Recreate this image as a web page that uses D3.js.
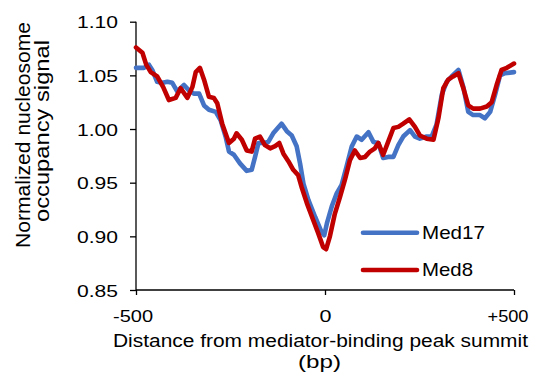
<!DOCTYPE html>
<html>
<head>
<meta charset="utf-8">
<script src="https://cdn.jsdelivr.net/npm/d3@7"></script>
<style>
  html, body { margin: 0; padding: 0; background: #fff; }
  svg { display: block; }
  text { font-family: "Liberation Sans", Arial, sans-serif; fill: #000; }
</style>
</head>
<body>
<svg id="chart" width="537" height="378"></svg>
<script>
// Nucleosome occupancy around mediator-binding peak summits
const med17Bp = [-500,-479,-466,-457,-444,-430,-417,-404,-391,-373,-360,-347,-333,-320,-307,-289,-276,-263,-254,-241,-225,-207,-194,-185,-176,-163,-150,-137,-115,-101,-88,-75,-66,-57,-44,-26,-9,-2,5,18,31,44,57,71,84,97,115,128,141,154,167,181,194,207,225,238,251,269,282,295,309,322,335,353,366,379,392,410,423,437,450,463,476,500];
const med17 = [1.057,1.057,1.060,1.055,1.044,1.043,1.044,1.043,1.035,1.041,1.036,1.033,1.033,1.022,1.018,1.016,1.008,0.993,0.979,0.976,0.968,0.961,0.962,0.974,0.987,0.987,0.988,0.996,1.005,0.998,0.994,0.984,0.968,0.949,0.934,0.918,0.904,0.901,0.912,0.928,0.940,0.948,0.965,0.984,0.993,0.990,0.997,0.988,0.987,0.973,0.974,0.974,0.985,0.993,0.999,0.993,0.991,0.993,0.993,1.004,1.032,1.044,1.049,1.055,1.039,1.016,1.013,1.013,1.010,1.016,1.032,1.050,1.052,1.053];

const med8Bp = [-500,-483,-473,-461,-444,-428,-413,-395,-382,-364,-351,-342,-331,-320,-307,-294,-285,-272,-254,-241,-234,-220,-207,-194,-185,-172,-159,-145,-132,-121,-110,-97,-84,-71,-62,-48,-31,-18,-5,3,13,26,40,53,66,79,93,106,119,132,141,154,167,181,194,207,223,238,251,269,287,300,313,326,339,353,366,379,392,410,428,441,454,467,481,500];
const med8 = [1.076,1.071,1.060,1.053,1.049,1.039,1.027,1.029,1.038,1.029,1.039,1.053,1.057,1.046,1.030,1.029,1.024,1.005,0.987,0.991,0.996,0.990,0.980,0.979,0.991,0.993,0.985,0.982,0.984,0.987,0.977,0.970,0.962,0.957,0.946,0.931,0.915,0.903,0.890,0.888,0.900,0.921,0.937,0.953,0.971,0.980,0.973,0.974,0.979,0.982,0.987,0.976,0.988,1.001,1.002,1.005,1.009,1.002,0.994,0.991,0.990,1.010,1.038,1.046,1.049,1.052,1.038,1.022,1.019,1.019,1.021,1.025,1.041,1.055,1.057,1.061];

const seriesNames = ["Med17", "Med8"];
const seriesColors = ["#4472C4", "#C00000"];
const xTicks = [-500, 0, 500];
const xTickLabels = ["-500", "0", "+500"];
const yTicks = [0.85, 0.90, 0.95, 1.00, 1.05, 1.10];

const svg = d3.select("#chart");
const x = d3.scaleLinear().domain([-500, 500]).range([136, 514]);
const y = d3.scaleLinear().domain([0.85, 1.10]).range([290, 21.7]);

// Stretch a text element horizontally to a target width
function fitWidth(sel, w) {
  sel.attr("textLength", w).attr("lengthAdjust", "spacingAndGlyphs");
}

// Y axis
const yAxis = svg.append("g")
  .attr("transform", "translate(136,0)")
  .call(d3.axisLeft(y).tickValues(yTicks).tickFormat(d3.format(".2f")).tickSize(6).tickPadding(12));
yAxis.select(".domain").attr("stroke", "#000").attr("stroke-width", 1.3).attr("d", "M0,21.7V290");
yAxis.selectAll(".tick line").attr("stroke", "#000").attr("stroke-width", 1.3);
yAxis.selectAll(".tick text")
  .attr("font-size", 17).attr("fill", "#000").attr("dy", "0.36em")
  .each(function() { fitWidth(d3.select(this), 41); });

// X axis
const xAxis = svg.append("g")
  .attr("transform", "translate(0,290)")
  .call(d3.axisBottom(x).tickValues(xTicks).tickFormat((d, i) => xTickLabels[i]).tickSize(5).tickPadding(0));
xAxis.select(".domain").attr("stroke", "#000").attr("stroke-width", 1.3).attr("d", "M136,0H514");
xAxis.selectAll(".tick line").attr("stroke", "#000").attr("stroke-width", 1.3);
xAxis.selectAll(".tick text")
  .attr("font-size", 17).attr("fill", "#000").attr("y", 31.7).attr("dy", 0)
  .attr("dx", (d, i) => [-3.5, 0, -6.5][i])
  .each(function(d, i) { fitWidth(d3.select(this), [40, 12, 41][i]); });

// Lines
const line = d3.line().x(d => x(d[0])).y(d => y(d[1])).curve(d3.curveLinear);
const data = [d3.zip(med17Bp, med17), d3.zip(med8Bp, med8)];
svg.append("g").selectAll("path").data(data).join("path")
  .attr("d", line)
  .attr("fill", "none")
  .attr("stroke", (d, i) => seriesColors[i])
  .attr("stroke-width", 4.6)
  .attr("stroke-linejoin", "round")
  .attr("stroke-linecap", "round");

// Legend
const legendY = [232.7, 270];
const legend = svg.append("g").selectAll("g").data(seriesNames).join("g")
  .attr("transform", (d, i) => `translate(0,${legendY[i]})`);
legend.append("line")
  .attr("x1", 363).attr("x2", 417).attr("y1", 0).attr("y2", 0)
  .attr("stroke", (d, i) => seriesColors[i]).attr("stroke-width", 4.6).attr("stroke-linecap", "round");
legend.append("text")
  .attr("x", 422).attr("y", 6.3).attr("font-size", 19)
  .text(d => d)
  .each(function(d, i) { fitWidth(d3.select(this), [63, 51][i]); });

// Axis titles
const xt = svg.append("text").attr("x", 320.5).attr("y", 346.5).attr("text-anchor", "middle")
  .attr("font-size", 17.5).text("Distance from mediator-binding peak summit");
fitWidth(xt, 415);
const xt2 = svg.append("text").attr("x", 319.5).attr("y", 368).attr("text-anchor", "middle")
  .attr("font-size", 18).text("(bp)");
fitWidth(xt2, 43);

const yt1 = svg.append("text").attr("transform", "translate(30,135) rotate(-90)")
  .attr("text-anchor", "middle").attr("font-size", 21).text("Normalized nucleosome");
fitWidth(yt1, 226);
const yt2 = svg.append("text").attr("transform", "translate(48.5,131) rotate(-90)")
  .attr("text-anchor", "middle").attr("font-size", 21).text("occupancy signal");
fitWidth(yt2, 182);
</script>
</body>
</html>
